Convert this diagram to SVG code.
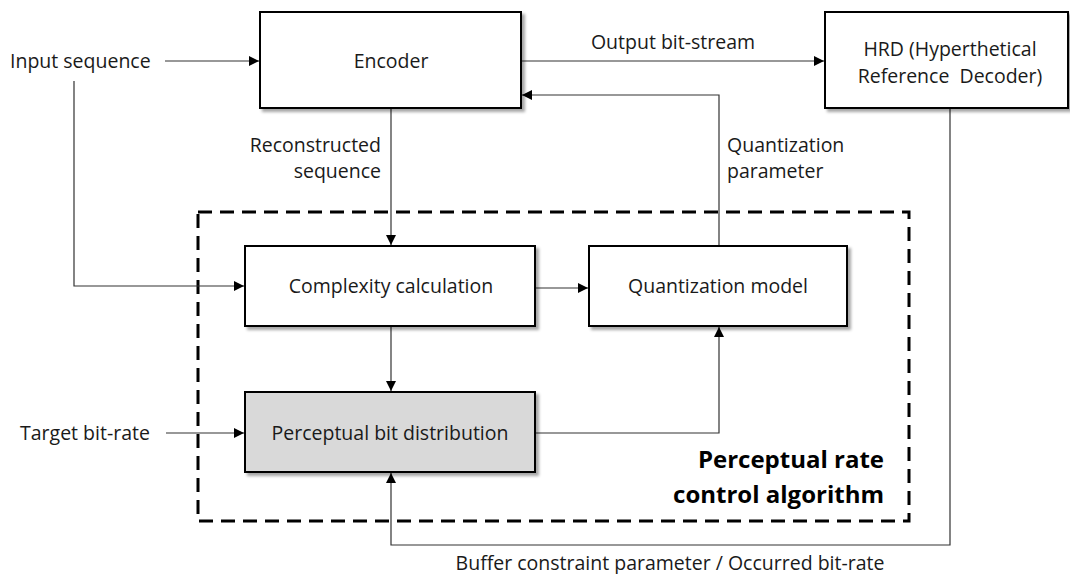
<svg xmlns="http://www.w3.org/2000/svg" width="1070" height="574" viewBox="0 0 1070 574">
  <defs>
    <filter id="shadow" x="-10%" y="-10%" width="125%" height="130%">
      <feDropShadow dx="3" dy="3" stdDeviation="1.6" flood-color="#000" flood-opacity="0.35"/>
    </filter>
    <marker id="arrow" viewBox="0 0 10 10" refX="10" refY="5" markerWidth="10" markerHeight="10" markerUnits="userSpaceOnUse" orient="auto">
      <path d="M0,0 L10,5 L0,10 Z" fill="#000"/>
    </marker>
  </defs>
  <style>
    .box { fill: #fff; stroke: #000; stroke-width: 2; filter: url(#shadow); }
    .box.grey { fill: #d9d9d9; }
    .txt { font-family: "Open Sans", "Noto Sans", sans-serif; font-size: 19.5px; fill: #1a1a1a; }
    .mid { text-anchor: middle; }
    .end { text-anchor: end; }
    .bold { font-weight: bold; font-size: 24px; fill: #000; }
    .wire { fill: none; stroke: #333; stroke-width: 1.2; }
    .arr { marker-end: url(#arrow); }
    .frame { fill: none; stroke: #000; stroke-width: 3; stroke-dasharray: 14 8; }
  </style>

  <rect width="1070" height="574" fill="#fff"/>

  <!-- dashed boundary of the rate control block -->
  <g id="rate-control-frame">
    <rect class="frame" x="198" y="212" width="711" height="309"/>
    <text class="txt bold end" x="884" y="468">Perceptual rate</text>
    <text class="txt bold end" x="884" y="503">control algorithm</text>
  </g>

  <!-- connectors -->
  <g id="connectors">
    <path class="wire arr" d="M165,61 H259"/>
    <path class="wire arr" d="M74,81 V286 H244"/>
    <path class="wire arr" d="M521,61 H824"/>
    <path class="wire arr" d="M719,245 V95 H522"/>
    <path class="wire arr" d="M391,108 V245"/>
    <path class="wire arr" d="M535,288 H588"/>
    <path class="wire arr" d="M391,326 V391"/>
    <path class="wire arr" d="M166,433 H244"/>
    <path class="wire arr" d="M535,433 H719 V327"/>
    <path class="wire arr" d="M950,108 V545 H391 V473"/>
  </g>

  <!-- free labels -->
  <g id="labels">
    <text class="txt" x="10" y="68">Input sequence</text>
    <text class="txt mid" x="673" y="49">Output bit-stream</text>
    <text class="txt end" x="381" y="152">Reconstructed</text>
    <text class="txt end" x="381" y="178">sequence</text>
    <text class="txt" x="727" y="152">Quantization</text>
    <text class="txt" x="727" y="178">parameter</text>
    <text class="txt" x="20" y="440">Target bit-rate</text>
    <text class="txt mid" x="670" y="570">Buffer constraint parameter / Occurred bit-rate</text>
  </g>

  <g id="encoder">
    <rect class="box" x="260" y="12" width="261" height="96"/>
    <text class="txt mid" x="391" y="68">Encoder</text>
  </g>

  <g id="hrd">
    <rect class="box" x="825" y="12" width="243" height="96"/>
    <text class="txt mid" x="950" y="56">HRD (Hyperthetical</text>
    <text class="txt mid" x="950" y="83" xml:space="preserve">Reference  Decoder)</text>
  </g>

  <g id="complexity-calculation">
    <rect class="box" x="245" y="246" width="290" height="80"/>
    <text class="txt mid" x="391" y="293">Complexity calculation</text>
  </g>

  <g id="quantization-model">
    <rect class="box" x="589" y="246" width="258" height="80"/>
    <text class="txt mid" x="718" y="293">Quantization model</text>
  </g>

  <g id="perceptual-bit-distribution">
    <rect class="box grey" x="245" y="392" width="290" height="80"/>
    <text class="txt mid" x="390" y="440">Perceptual bit distribution</text>
  </g>
</svg>
